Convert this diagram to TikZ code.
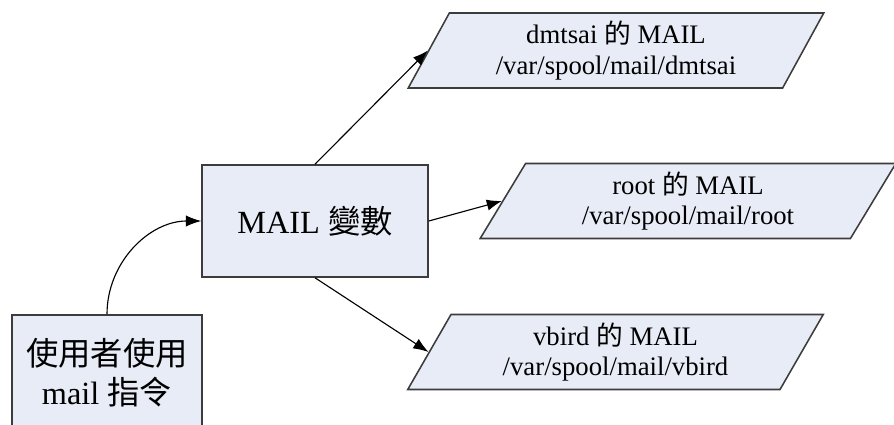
\documentclass[tikz,border=0pt]{standalone}
\usepackage{fontspec}
\setmainfont{Liberation Serif}
\newfontfamily\cjk{Noto Sans CJK TC}
\usetikzlibrary{shapes.geometric,arrows.meta}
\definecolor{boxfill}{RGB}{232,236,246}
\definecolor{boxline}{RGB}{60,60,60}

\begin{document}
\begin{tikzpicture}[x=0.025cm,y=0.025cm,
  box/.style={draw=boxline,line width=1.1pt,fill=boxfill,align=center,inner sep=0pt},
  mailfile/.style={box,trapezium,trapezium left angle=63.1,trapezium right angle=116.9,trapezium stretches=true,minimum width=10.4cm,minimum height=1.875cm,font=\fontsize{19}{21.5}\selectfont},
  link/.style={-{Latex[length=3.8mm,width=2.8mm]},line width=0.8pt}]
\useasboundingbox (0,-425) rectangle (894,0);
\clip (0,-425) rectangle (894,0);
% boxes
\node[box,minimum width=4.75cm,minimum height=2.875cm,font=\fontsize{23}{27.7}\selectfont] (user) at (107,-372.5) {{\cjk 使用者使用}\\mail {\cjk 指令}};
\node[box,minimum width=5.65cm,minimum height=2.8cm,font=\fontsize{23}{27.7}\selectfont] (mail) at (315,-221) {MAIL {\cjk 變數}};
% mail files
\node[mailfile] (dmtsai) at (616,-50.5) {dmtsai {\cjk 的} MAIL\\/var/spool/mail/dmtsai};
\node[mailfile] (root) at (688,-201) {root {\cjk 的} MAIL\\/var/spool/mail/root};
\node[mailfile] (vbird) at (615.5,-352) {vbird {\cjk 的} MAIL\\/var/spool/mail/vbird};
% links
\draw[link] (user.north) to[out=90,in=180] (mail.west);
\draw[link] (mail.north) -- (dmtsai.west);
\draw[link] (mail.east) -- (root.west);
\draw[link] (mail.south) -- (vbird.west);
\end{tikzpicture}
\end{document}
